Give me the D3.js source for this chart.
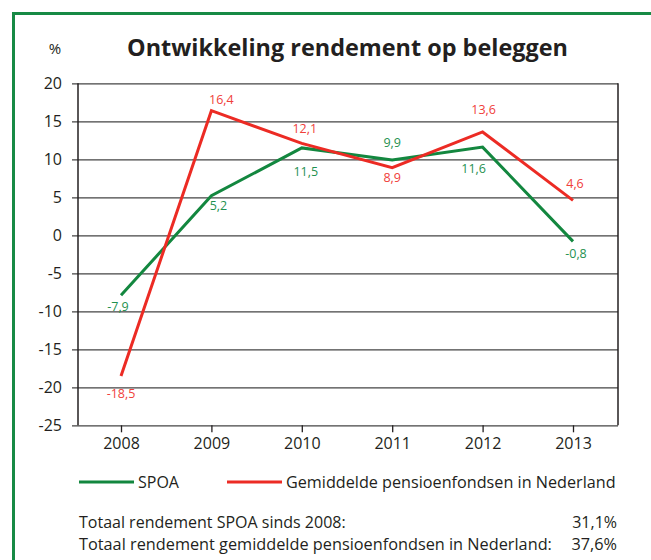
<!DOCTYPE html>
<html lang="nl">
<head>
<meta charset="UTF-8">
<title>Ontwikkeling rendement op beleggen</title>
<script src="https://cdn.jsdelivr.net/npm/d3@7"></script>
<style>
    body { margin: 0; background: #fff; }
    svg text { font-family: "Open Sans", "Noto Sans", sans-serif; fill: #231f20; }
</style>
</head>
<body>
<div id="chart"></div>
<script>
// data
const years = ["2008", "2009", "2010", "2011", "2012", "2013"];
const spoa = [-7.9, 5.2, 11.5, 9.9, 11.6, -0.8];
const gemiddeld = [-18.5, 16.4, 12.1, 8.9, 13.6, 4.6];
const yTicks = [20, 15, 10, 5, 0, -5, -10, -15, -20, -25];
const seriesNames = ["SPOA", "Gemiddelde pensioenfondsen in Nederland"];
const totalLabels = ["Totaal rendement SPOA sinds 2008:", "Totaal rendement gemiddelde pensioenfondsen in Nederland:"];
const totalValues = ["31,1%", "37,6%"];

// where each value label sits relative to its point [dx, dy to baseline]
const spoaLabelPos = [[-3, 16], [7, 14], [4, 28], [0, -13], [-9, 26], [3, 17]];
const gemLabelPos = [[0, 22], [10, -7], [3, -10], [0, 14], [1, -18], [2, -12]];

const green = "#13873f";
const red = "#ec2b24";

const width = 651, height = 560;
const plot = { left: 78, right: 618, top: 83.3, bottom: 425.3 };

const svg = d3.select("#chart").append("svg")
    .attr("width", width)
    .attr("height", height);

// shrink/grow a text's font so it covers the given width
function fitWidth(sel, target) {
    const w = sel.node().getComputedTextLength();
    const fs = parseFloat(sel.style("font-size"));
    sel.style("font-size", (fs * target / w).toFixed(2) + "px");
}

// green frame, runs off the right and bottom edge
svg.append("path")
    .attr("d", `M13.5,${height + 5}V13.5H${width + 5}`)
    .attr("fill", "none")
    .attr("stroke", "#178a45")
    .attr("stroke-width", 3);

const x = d3.scalePoint().domain(years).range([121, 573]);
const y = d3.scaleLinear().domain([-25, 20]).range([plot.bottom, plot.top]);

// title
const title = svg.append("text")
    .attr("x", 347.5)
    .attr("y", 56)
    .attr("text-anchor", "middle")
    .style("font-size", "24px")
    .style("font-weight", "bold")
    .text("Ontwikkeling rendement op beleggen");
fitWidth(title, 441);

svg.append("text")
    .attr("x", 55)
    .attr("y", 53.5)
    .attr("text-anchor", "middle")
    .style("font-size", "15px")
    .text("%");

// horizontal grid + y ticks
const yAxis = d3.axisLeft(y)
    .tickValues(yTicks)
    .tickSize(plot.right - 72)
    .tickFormat(d => String(d));

const gy = svg.append("g")
    .attr("transform", `translate(${plot.right},0)`)
    .call(yAxis);
gy.select(".domain").remove();
gy.selectAll(".tick line").attr("stroke", "#444").attr("stroke-width", 1.3);
gy.selectAll(".tick text")
    .attr("x", -(plot.right - 62))
    .attr("dy", "0.35em")
    .style("font-size", "16px")
    .attr("fill", "#231f20");

// plot frame (left + right sides)
svg.append("line")
    .attr("x1", plot.left).attr("x2", plot.left)
    .attr("y1", plot.top).attr("y2", plot.bottom)
    .attr("stroke", "#231f20").attr("stroke-width", 1.5);
svg.append("line")
    .attr("x1", plot.right).attr("x2", plot.right)
    .attr("y1", plot.top).attr("y2", plot.bottom)
    .attr("stroke", "#231f20").attr("stroke-width", 1.5);

// x axis
const gx = svg.append("g")
    .attr("transform", `translate(0,${plot.bottom})`)
    .call(d3.axisBottom(x).tickSize(7).tickSizeOuter(0));
gx.select(".domain").remove();
gx.selectAll(".tick line").attr("stroke", "#231f20").attr("stroke-width", 1.3);
gx.selectAll(".tick text")
    .attr("y", 12)
    .attr("dy", "0.71em")
    .style("font-size", "16px")
    .attr("fill", "#231f20");

const line = d3.line()
    .x((d, i) => x(years[i]))
    .y(d => y(d));

const series = [
    { name: seriesNames[0], values: spoa, color: green, labelPos: spoaLabelPos, labelColor: "#1f9150" },
    { name: seriesNames[1], values: gemiddeld, color: red, labelPos: gemLabelPos, labelColor: "#f0403a" }
];

series.forEach(s => {
    svg.append("path")
        .datum(s.values)
        .attr("d", line)
        .attr("fill", "none")
        .attr("stroke", s.color)
        .attr("stroke-width", 3)
        .attr("stroke-linejoin", "miter");

    svg.append("g")
        .selectAll("text")
        .data(s.values)
        .join("text")
        .attr("x", (d, i) => x(years[i]) + s.labelPos[i][0])
        .attr("y", (d, i) => y(d) + s.labelPos[i][1])
        .attr("text-anchor", "middle")
        .style("font-size", "12.5px")
        .style("fill", s.labelColor)
        .text(d => String(d).replace(".", ","));
});

// legend
const legendX = [79, 227];
const legendTextW = [46, 330];
const legend = svg.append("g");
series.forEach((s, i) => {
    legend.append("line")
        .attr("x1", legendX[i]).attr("x2", legendX[i] + 55)
        .attr("y1", 482).attr("y2", 482)
        .attr("stroke", s.color)
        .attr("stroke-width", 3);
    const t = legend.append("text")
        .attr("x", legendX[i] + 59)
        .attr("y", 488)
        .style("font-size", "16px")
        .text(s.name);
    if (i === 1) fitWidth(t, legendTextW[i]);
});

// totals
totalLabels.forEach((t, i) => {
    const lbl = svg.append("text")
        .attr("x", 79)
        .attr("y", 528 + i * 22)
        .style("font-size", "16px")
        .text(t);
    if (i === 1) fitWidth(lbl, 473);
    svg.append("text")
        .attr("x", 617)
        .attr("y", 528 + i * 22)
        .attr("text-anchor", "end")
        .style("font-size", lbl.style("font-size"))
        .text(totalValues[i]);
});
</script>
</body>
</html>
